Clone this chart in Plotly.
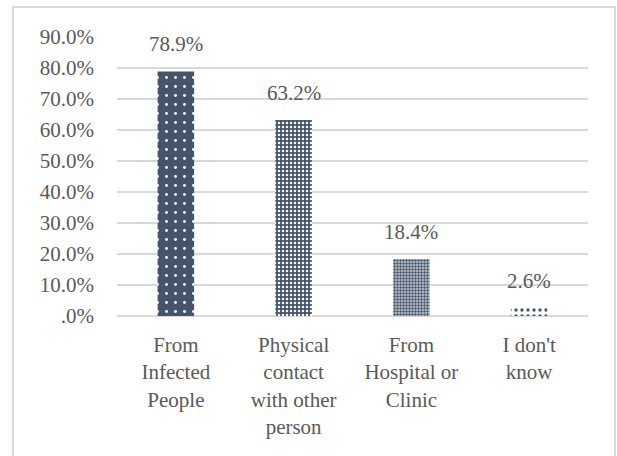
import plotly.graph_objects as go

categories = ["From<br>Infected<br>People", "Physical<br>contact<br>with other<br>person",
              "From<br>Hospital or<br>Clinic", "I don't<br>know"]
values = [78.9, 63.2, 18.4, 2.6]
tick_vals = [0, 10, 20, 30, 40, 50, 60, 70, 80, 90]
tick_text = [".0%", "10.0%", "20.0%", "30.0%", "40.0%", "50.0%", "60.0%", "70.0%", "80.0%", "90.0%"]

navy = "#44546A"
font_family = "Liberation Serif"
text_color = "#595959"
fsize = 21

fig = go.Figure()
fig.add_trace(go.Bar(
    x=categories, y=values, width=0.31,
    marker=dict(
        color=navy,
        line=dict(width=0),
        pattern=dict(
            shape=[".", ".", ".", "."],
            fgcolor=["white", "white", navy, navy],
            bgcolor=[navy, navy, "#c8cdd6", "white"],
            size=[9, 4, 3, 6],
            solidity=[0.08, 0.3, 0.5, 0.25],
            fillmode="replace",
        ),
    ),
    hoverinfo="skip",
))

for c, v in zip(categories, values):
    fig.add_annotation(x=c, y=v, text=f"{v:.1f}%", showarrow=False,
                       yanchor="bottom", yshift=13,
                       font=dict(family=font_family, size=fsize, color=text_color))

fig.add_shape(type="rect", xref="paper", yref="paper",
              x0=(13 - 117) / 471, x1=(615 - 117) / 471,
              y0=-1.0, y1=(316 - 7) / 279,
              line=dict(color="#d9d9d9", width=2), layer="below")

fig.update_layout(
    width=617, height=456,
    margin=dict(l=117, r=29, t=37, b=140),
    paper_bgcolor="white", plot_bgcolor="white",
    showlegend=False,
    font=dict(family=font_family, size=fsize, color=text_color),
    bargap=0.69,
    xaxis=dict(showgrid=False, showline=False, ticks="", tickangle=0,
               ticklabelstandoff=14,
               tickfont=dict(family=font_family, size=fsize, color=text_color)),
    yaxis=dict(range=[0, 90], tickvals=tick_vals, ticktext=tick_text,
               showgrid=True, gridcolor="#d9d9d9", gridwidth=2,
               zeroline=True, zerolinecolor="#d9d9d9", zerolinewidth=2,
               showline=False, ticklabelstandoff=22,
               tickfont=dict(family=font_family, size=fsize, color=text_color)),
)

fig.write_html("out.html")
